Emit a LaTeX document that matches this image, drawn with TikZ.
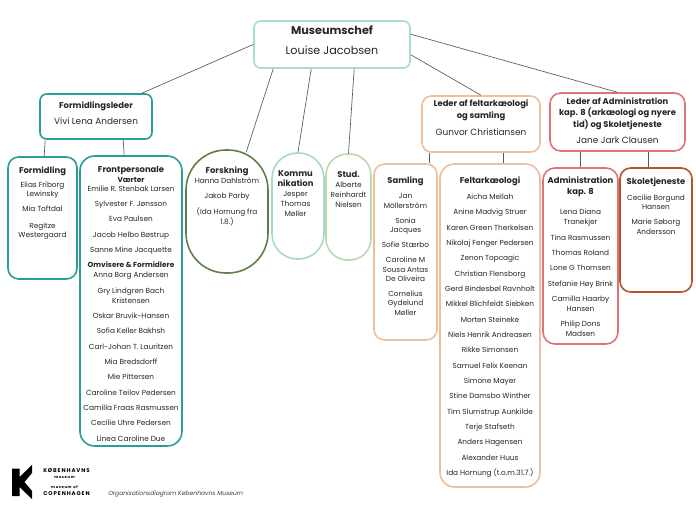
\documentclass[tikz,border=0pt]{standalone}
\usepackage{fontspec}
\setmainfont{Poppins}
\usepackage{xcolor}

\definecolor{chefgreen}{HTML}{A8DCCB}
\definecolor{formteal}{HTML}{2A9D96}
\definecolor{forskgreen}{HTML}{5F7F45}
\definecolor{kommteal}{HTML}{A6D8CE}
\definecolor{studgreen}{HTML}{BBD8AE}
\definecolor{feltorange}{HTML}{EFBE9A}
\definecolor{admred}{HTML}{E0737A}
\definecolor{skolebrown}{HTML}{B5552F}

\newcommand{\nameskip}{\\[4pt]}
\newcommand{\titlefont}{\fontsize{6.3}{7.5}\selectfont\bfseries}
\newcommand{\headfont}{\fontsize{6.7}{7.5}\selectfont}

\tikzset{
  orgbox/.style={draw=#1, line width=1.2pt, inner sep=0pt},
  boxsize/.style 2 args={minimum width=#1*0.75pt, minimum height=#2*0.75pt},
  names/.style={anchor=north, inner sep=0pt, align=center, font=\fontsize{5.5}{7.5}\selectfont, text=black!85},
  link/.style={draw=black!65, line width=0.5pt}
}

\begin{document}
\begin{tikzpicture}[x=0.75pt, y=-0.75pt]
  \useasboundingbox (0, 0) rectangle (696, 522);

  % boxes
  \node[orgbox=chefgreen, boxsize={156}{47}, rounded corners=5pt] (chef) at (332, 44.5) {};
  \node[orgbox=formteal, boxsize={112}{45}, rounded corners=5pt] (formleder) at (96, 116.5) {};
  \node[orgbox=formteal, boxsize={69}{122}, rounded corners=8pt] (formidling) at (42.5, 218) {};
  \node[orgbox=formteal, boxsize={102}{290}, rounded corners=11pt] (front) at (131, 301) {};
  \node[orgbox=forskgreen, boxsize={82}{123}, rounded corners=30pt] (forskning) at (227, 211.5) {};
  \node[orgbox=kommteal, boxsize={52}{106}, rounded corners=19pt] (komm) at (298, 206) {};
  \node[orgbox=studgreen, boxsize={45}{106}, rounded corners=16pt] (stud) at (348.5, 207) {};
  \node[orgbox=feltorange, boxsize={118}{56}, rounded corners=7pt] (feltleder) at (481, 124) {};
  \node[orgbox=admred, boxsize={135}{58}, rounded corners=8pt] (admleder) at (617.5, 122) {};
  \node[orgbox=feltorange, boxsize={63}{176}, rounded corners=8pt] (samling) at (405.5, 252) {};
  \node[orgbox=feltorange, boxsize={100}{323}, rounded corners=11pt] (felt) at (490, 325.5) {};
  \node[orgbox=admred, boxsize={75}{176}, rounded corners=9pt] (adm) at (580.5, 256) {};
  \node[orgbox=skolebrown, boxsize={72}{124}, rounded corners=8pt] (skole) at (656, 230) {};

  % lines
  \draw[link] (chef.west) -- ([xshift=77pt]formleder.north west);
  \draw[link] ([xshift=15pt]chef.south west) -- ([xshift=45.75pt, yshift=-2.25pt]forskning.north west);
  \draw[link] ([xshift=43.5pt]chef.south west) -- (komm.north);
  \draw[link] ([xshift=75.75pt]chef.south west) -- (stud.north);
  \draw[link] ([yshift=10.5pt]chef.south east) -- (feltleder.north);
  \draw[link] ([yshift=-10.5pt]chef.north east) -- ([xshift=51pt]admleder.north west);
  \draw[link] ([xshift=4.5pt]formleder.south west) -- ([xshift=27.75pt]formidling.north west);
  \draw[link] ([xshift=63pt]formleder.south west) -- ([xshift=33.75pt]front.north west);
  \draw[link] ([xshift=6pt]feltleder.south west) -- ([xshift=42pt]samling.north west);
  \draw[link] ([xshift=61.5pt]feltleder.south west) -- ([xshift=48pt]felt.north west);
  \draw[link] ([xshift=23.25pt]admleder.south west) -- ([xshift=28.5pt]adm.north west);
  \draw[link] ([xshift=74.25pt]admleder.south west) -- ([xshift=21.75pt]skole.north west);

  % texts
  \node[names] (cheftxt) at (332, 25.5) {{\fontsize{8.4}{10}\selectfont\bfseries Museumschef}\\[7.5pt]{\fontsize{8.4}{10}\selectfont Louise Jacobsen}};
  \node[names] (formledertxt) at (96, 101.5) {{\titlefont Formidlingsleder}\\[4.5pt]{\headfont Vivi Lena Andersen}};
  \node[names] (formidlingtxt) at (42.5, 166.5) {{\titlefont Formidling}\\[3pt]Elias Friborg\\[-0.8pt]Lewinsky\nameskip Mia Toftdal\\[5.2pt]Regitze\\[-0.8pt]Westergaard};
  \node[names] (fronttxt) at (131, 166.5) {{\titlefont Frontpersonale}\\[-0.5pt]{\bfseries Værter}\\[-0.8pt]Emilie R. Stenbak Larsen\nameskip Sylvester F. Jønsson\nameskip Eva Paulsen\nameskip Jacob Helbo Bøstrup\nameskip Sanne Mine Jacquette\nameskip {\bfseries Omvisere \& Formidlere}\\[0pt]Anna Borg Andersen\nameskip Gry Lindgren Bach\\[0pt]Kristensen\nameskip Oskar Bruvik-Hansen\nameskip Sofia Keller Bakhsh\nameskip Carl-Johan T. Lauritzen\nameskip Mia Bredsdorff\nameskip Mie Pittersen\nameskip Caroline Teilov Pedersen\nameskip Camilla Fraas Rasmussen\nameskip Cecilie Uhre Pedersen\nameskip Linea Caroline Due};
  \node[names] (forskningtxt) at (227, 166.5) {{\titlefont Forskning}\\[0pt]Hanna Dahlström\nameskip Jakob Parby\nameskip (Ida Hornung fra\\[0pt]1.8.)};
  \node[names] (kommtxt) at (295.5, 170.5) {{\titlefont Kommu}\\[0pt]{\titlefont nikation}\\[0pt]Jesper\\[0pt]Thomas\\[0pt]Møller};
  \node[names] (studtxt) at (348.5, 171.5) {{\titlefont Stud.}\\[0pt]Alberte\\[0pt]Reinhardt\\[0pt]Nielsen};
  \node[names] (feltledertxt) at (481, 99.5) {{\titlefont Leder af feltarkæologi}\\[1.5pt]{\titlefont og samling}\\[5pt]{\headfont Gunvor Christiansen}};
  \node[names] (admledertxt) at (617.5, 97.5) {{\titlefont Leder af Administration}\\[1.1pt]{\titlefont kap. 8 (arkæologi og nyere}\\[1.1pt]{\titlefont tid) og Skoletjeneste}\\[4.5pt]{\headfont Jane Jark Clausen}};
  \node[names] (samlingtxt) at (405.5, 176.5) {{\titlefont Samling}\\[4pt]Jan\\[-0.5pt]Möllerström\\[3.8pt]Sonia\\[-0.5pt]Jacques\\[3.8pt]Sofie Stærbo\\[3.8pt]Caroline M\\[-0.5pt]Sousa Antas\\[-0.5pt]De Oliveira\\[3.8pt]Cornelius\\[-0.5pt]Gydelund\\[-0.5pt]Møller};
  \node[names] (felttxt) at (490, 176.5) {{\titlefont Feltarkæologi}\\[4.5pt]Aicha Mellah\nameskip Anine Madvig Struer\nameskip Karen Green Therkelsen\nameskip Nikolaj Fenger Pedersen\nameskip Zenon Topcagic\nameskip Christian Flensborg\nameskip Gerd Bindesbøl Ravnholt\nameskip Mikkel Blichfeldt Siebken\nameskip Morten Steineke\nameskip Niels Henrik Andreasen\nameskip Rikke Simonsen\nameskip Samuel Felix Keenan\nameskip Simone Mayer\nameskip Stine Damsbo Winther\nameskip Tim Slumstrup Aunkilde\nameskip Terje Stafseth\nameskip Anders Hagensen\nameskip Alexander Huus\nameskip Ida Hornung (t.o.m.31.7.)};
  \node[names] (admtxt) at (580.5, 176.5) {{\titlefont Administration}\\[1pt]{\titlefont kap. 8}\\[7.5pt]Lena Diana\\[0pt]Tranekjer\nameskip Tina Rasmussen\nameskip Thomas Roland\nameskip Lone G Thomsen\nameskip Stefanie Høy Brink\nameskip Camilla Haarby\\[0pt]Hansen\nameskip Philip Dons\\[0pt]Madsen};
  \node[names] (skoletxt) at (656, 177.5) {{\titlefont Skoletjeneste}\\[4.5pt]Cecilie Borgund\\[-0.5pt]Hansen\\[3.8pt]Marie Søborg\\[-0.5pt]Andersson};

  % logo
  \fill[black] (12, 468.5) -- (19.5, 468.5) -- (19.5, 477) -- (32, 465) -- (32, 473) -- (24.5, 482) -- (32, 491) -- (32, 499) -- (19.5, 487) -- (19.5, 496) -- (12, 496) -- cycle;
  \node[inner sep=0pt, font=\fontsize{4.1}{4}\selectfont\bfseries] (logoa) at (66.5, 471) {K\,Ø\,B\,E\,N\,H\,A\,V\,N\,S};
  \node[inner sep=0pt, font=\fontsize{2.8}{3}\selectfont\bfseries] (logob) at (64.5, 477.5) {m\,u\,s\,e\,u\,m};
  \node[inner sep=0pt, font=\fontsize{2.8}{3}\selectfont\bfseries] (logoc) at (64.5, 487) {m\,u\,s\,e\,u\,m\,\,\,o\,f};
  \node[inner sep=0pt, font=\fontsize{4.1}{4}\selectfont\bfseries] (logod) at (66.5, 493.5) {C\,O\,P\,E\,N\,H\,A\,G\,E\,N};
  \node[inner sep=0pt, anchor=west, font=\fontsize{4.5}{6}\selectfont\itshape, text=black!75] (caption) at (108, 494) {Organisationsdiagram Københavns Museum};
\end{tikzpicture}
\end{document}
